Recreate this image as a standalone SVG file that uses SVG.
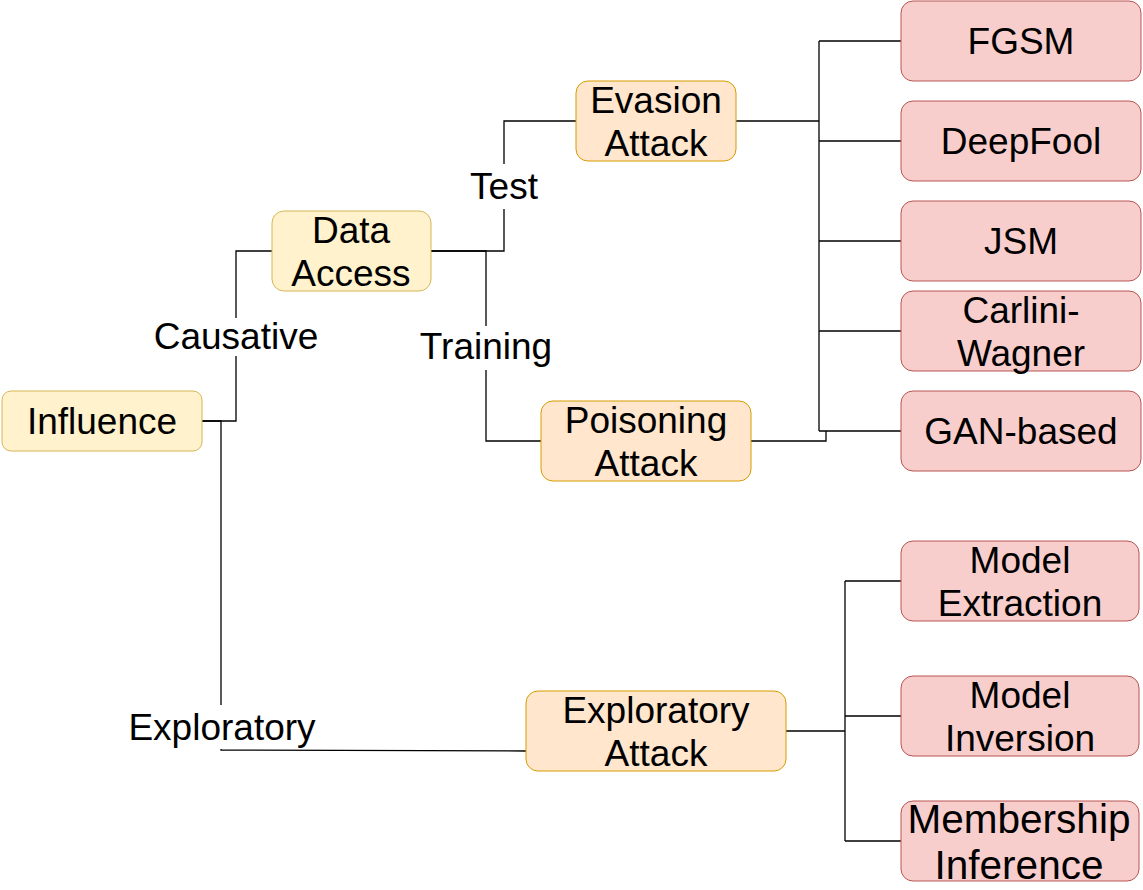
<svg xmlns="http://www.w3.org/2000/svg" width="1143" height="890" viewBox="0 0 1143 890">
<style>
text{font-family:"Liberation Sans",Arial,sans-serif;font-size:37px;fill:#000;text-anchor:middle}
.big{font-size:40.5px}
.y{fill:#fff2cc;stroke:#d6b656;stroke-width:1}
.o{fill:#ffe6cc;stroke:#d79b00;stroke-width:1}
.r{fill:#f8cecc;stroke:#b85450;stroke-width:1}
.c path{fill:none;stroke:#000;stroke-width:1.3}
.lb{fill:#fff;stroke:none}
</style>
<rect width="1143" height="890" fill="#fff"/>
<g class="c" id="connectors">
<path d="M202 421H236V251H272"/>
<path d="M202 421H221V750L526 751"/>
<path d="M431 251H504V121H576"/>
<path d="M431 251H486V441H541"/>
<path d="M736 121H819"/>
<path d="M819 41V431"/>
<path d="M819 41H901M819 141H901M819 241H901M819 331H901M819 431H901"/>
<path d="M751 441H826V431"/>
<path d="M786 731H845"/>
<path d="M845 581V841"/>
<path d="M845 581H901M845 716H901M845 841H901"/>
<rect class="lb" x="150" y="318" width="172" height="38"/>
<text x="236" y="349">Causative</text>
<rect class="lb" x="466" y="164" width="76" height="45"/>
<text x="504" y="199">Test</text>
<rect class="lb" x="416" y="326" width="140" height="44"/>
<text x="486" y="359">Training</text>
<rect class="lb" x="124" y="705" width="196" height="44"/>
<text x="222" y="740">Exploratory</text>
</g>
<g id="influence"><rect class="y" x="2" y="391" width="200" height="60" rx="9"/><text x="102" y="434">Influence</text></g>
<g id="data-access"><rect class="y" x="272" y="211" width="159" height="80" rx="12"/><text x="351" y="243">Data</text><text x="351" y="286">Access</text></g>
<g id="evasion"><rect class="o" x="576" y="81" width="160" height="80" rx="12"/><text x="656" y="113">Evasion</text><text x="656" y="156">Attack</text></g>
<g id="poisoning"><rect class="o" x="541" y="401" width="210" height="80" rx="12"/><text x="646" y="433">Poisoning</text><text x="646" y="476">Attack</text></g>
<g id="exploratory"><rect class="o" x="526" y="691" width="260" height="80" rx="12"/><text x="656" y="723">Exploratory</text><text x="656" y="766">Attack</text></g>
<g id="fgsm"><rect class="r" x="901" y="1" width="240" height="80" rx="12"/><text x="1021" y="54">FGSM</text></g>
<g id="deepfool"><rect class="r" x="901" y="101" width="240" height="80" rx="12"/><text x="1021" y="154">DeepFool</text></g>
<g id="jsm"><rect class="r" x="901" y="201" width="240" height="80" rx="12"/><text x="1021" y="254">JSM</text></g>
<g id="cw"><rect class="r" x="901" y="291" width="240" height="80" rx="12"/><text x="1021" y="323">Carlini-</text><text x="1021" y="366">Wagner</text></g>
<g id="gan"><rect class="r" x="901" y="391" width="240" height="80" rx="12"/><text x="1021" y="444">GAN-based</text></g>
<g id="model-extraction"><rect class="r" x="901" y="541" width="238" height="80" rx="12"/><text x="1020" y="573">Model</text><text x="1020" y="616">Extraction</text></g>
<g id="model-inversion"><rect class="r" x="901" y="676" width="238" height="80" rx="12"/><text x="1020" y="708">Model</text><text x="1020" y="751">Inversion</text></g>
<g id="membership"><rect class="r" x="901" y="801" width="238" height="80" rx="12"/><text class="big" x="1019" y="833">Membership</text><text class="big" x="1019" y="879">Inference</text></g>
</svg>
